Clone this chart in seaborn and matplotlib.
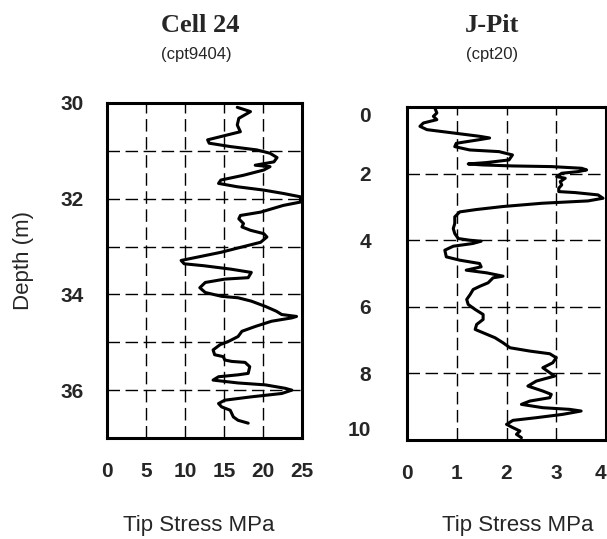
#!/usr/bin/env python3
"""CPT tip stress profiles for Cell 24 and J-Pit."""

import matplotlib

matplotlib.use("Agg")  # no display
import matplotlib.pyplot as plt
import pandas as pd
import seaborn as sns

# Cell 24 (cpt9404): depth (m) and tip stress (MPa)
cell24_depth = [
    30.09, 30.18, 30.32, 30.46, 30.60, 30.77, 30.84, 30.91, 30.98, 31.05,
    31.14, 31.23, 31.30, 31.33, 31.40, 31.51, 31.61, 31.68, 31.75, 31.82,
    31.89, 31.96, 32.07, 32.14, 32.28, 32.35, 32.42, 32.52, 32.59, 32.66,
    32.73, 32.80, 32.91, 32.98, 33.12, 33.22, 33.29, 33.36, 33.40, 33.47,
    33.54, 33.65, 33.68, 33.75, 33.86, 33.96, 34.04, 34.07, 34.14, 34.25,
    34.35, 34.42, 34.46, 34.49, 34.56, 34.67, 34.77, 34.88, 34.98, 35.05,
    35.16, 35.26, 35.30, 35.37, 35.40, 35.42, 35.51, 35.65, 35.68, 35.72,
    35.79, 35.85, 35.89, 35.96, 36.00, 36.07, 36.14, 36.21, 36.28, 36.35,
    36.42, 36.56, 36.63, 36.69,
]
cell24_stress = [
    16.7, 18.4, 16.9, 16.7, 17.1, 12.9, 13.1, 15.8, 19.2, 20.9,
    21.8, 21.4, 19.0, 20.9, 20.1, 17.5, 14.6, 14.3, 16.7, 20.1,
    22.6, 24.8, 24.8, 22.6, 19.7, 17.1, 16.9, 17.5, 17.3, 18.4,
    20.1, 20.5, 19.7, 18.0, 14.6, 11.6, 9.5, 9.9, 12.4, 15.8,
    18.5, 18.1, 15.1, 12.6, 11.9, 12.6, 14.7, 16.8, 18.5, 20.3,
    21.7, 22.4, 24.3, 23.7, 21.1, 19.0, 17.3, 16.8, 15.6, 14.5,
    13.6, 13.8, 14.9, 15.1, 16.0, 17.7, 18.3, 18.1, 16.8, 14.3,
    13.6, 16.8, 20.3, 22.8, 23.7, 22.4, 18.5, 15.1, 14.3, 14.7,
    15.8, 16.2, 16.8, 18.1,
]

# J-Pit (cpt20)
jpit_depth = [
    0.03, 0.18, 0.28, 0.38, 0.48, 0.58, 0.68, 0.78, 0.88, 0.93,
    0.98, 1.09, 1.19, 1.29, 1.34, 1.44, 1.59, 1.67, 1.71, 1.74,
    1.77, 1.79, 1.84, 1.89, 1.94, 1.99, 2.09, 2.14, 2.24, 2.34,
    2.44, 2.54, 2.57, 2.64, 2.74, 2.82, 2.89, 2.99, 3.08, 3.15,
    3.30, 3.50, 3.65, 3.80, 3.95, 4.00, 4.03, 4.10, 4.18, 4.30,
    4.50, 4.60, 4.70, 4.80, 4.90, 4.98, 5.08, 5.13, 5.28, 5.38,
    5.48, 5.63, 5.78, 5.93, 6.08, 6.23, 6.38, 6.53, 6.68, 6.78,
    6.93, 7.08, 7.23, 7.33, 7.41, 7.53, 7.68, 7.83, 7.98, 8.08,
    8.23, 8.38, 8.53, 8.63, 8.73, 8.83, 8.93, 9.03, 9.08, 9.13,
    9.23, 9.33, 9.41, 9.53, 9.63, 9.73, 9.83, 9.93,
]
jpit_stress = [
    0.56, 0.60, 0.53, 0.60, 0.33, 0.26, 0.40, 0.93, 1.46, 1.66,
    1.46, 0.99, 0.96, 1.26, 1.85, 2.12, 2.05, 1.59, 1.23, 1.52,
    2.12, 2.91, 3.51, 3.61, 3.44, 3.11, 3.01, 3.18, 3.08, 3.11,
    3.05, 3.05, 3.38, 3.84, 3.94, 3.64, 2.72, 1.92, 1.39, 1.06,
    0.96, 0.96, 0.93, 0.96, 1.03, 1.26, 1.49, 1.32, 0.93, 0.76,
    0.79, 1.06, 1.46, 1.49, 1.19, 1.60, 1.93, 1.73, 1.63, 1.47,
    1.33, 1.27, 1.20, 1.23, 1.37, 1.53, 1.53, 1.40, 1.37, 1.53,
    1.77, 1.93, 2.07, 2.47, 2.87, 3.00, 2.93, 2.73, 2.87, 2.97,
    2.60, 2.43, 2.73, 2.90, 2.87, 2.47, 2.30, 2.73, 3.27, 3.50,
    3.13, 2.60, 2.13, 2.00, 2.13, 2.27, 2.20, 2.30,
]

cell24_xticks = [0, 5, 10, 15, 20, 25]
cell24_yticks = [30, 32, 34, 36]
jpit_xticks = [0, 1, 2, 3, 4]
jpit_yticks = [0, 2, 4, 6, 8, 10]

sns.set_style("white")
plt.rcParams["font.family"] = ["Liberation Sans", "DejaVu Sans"]

fig = plt.figure(figsize=(6.07, 5.39), dpi=100)
ax_left = fig.add_axes([107 / 607, 1 - 438 / 539, 195 / 607, 335 / 539])
ax_right = fig.add_axes([407 / 607, 1 - 440 / 539, 199 / 607, 333 / 539])

grid_kw = dict(color="black", linestyle=(0, (9, 4)), linewidth=1.0)


def draw_profile(ax, depth, stress, xlim, ylim, xticks, yticks, xgrid, ygrid, ypad):
    df = pd.DataFrame({"depth": depth, "stress": stress})
    sns.lineplot(
        data=df, x="stress", y="depth", sort=False, estimator=None,
        color="black", linewidth=2.2, ax=ax,
    )
    ax.set_xlim(*xlim)
    ax.set_ylim(ylim[1], ylim[0])  # depth increases downward
    ax.set_xticks(xticks)
    ax.set_yticks(yticks)
    for v in xgrid:
        ax.axvline(v, **grid_kw)
    for v in ygrid:
        ax.axhline(v, **grid_kw)
    ax.set_xlabel("")
    ax.set_ylabel("")
    ax.tick_params(axis="x", length=0, pad=17, labelsize=15)
    ax.tick_params(axis="y", length=0, pad=ypad, labelsize=15)
    for lab in ax.get_xticklabels() + ax.get_yticklabels():
        lab.set_fontweight("bold")
    for sp in ax.spines.values():
        sp.set_linewidth(2.2)
        sp.set_color("black")
        sp.set_visible(True)


draw_profile(ax_left, cell24_depth, cell24_stress, (0, 25), (30, 37),
             cell24_xticks, cell24_yticks, [5, 10, 15, 20],
             [31, 32, 33, 34, 35, 36], 17)
draw_profile(ax_right, jpit_depth, jpit_stress, (0, 4), (0, 10),
             jpit_xticks, jpit_yticks, [1, 2, 3], [2, 4, 6, 8], 26)

# first and last depth labels of J-Pit sit inside the box
ylabs = ax_right.get_yticklabels()
ylabs[0].set_va("top")
ylabs[-1].set_va("bottom")
# the "4" sits right at the page edge
ax_right.get_xticklabels()[-1].set_ha("right")

serif = ["Liberation Serif", "DejaVu Serif"]
fig.text(200 / 607, 1 - 26 / 539, "Cell 24", family=serif, fontweight="bold",
         fontsize=19, ha="center", va="center")
fig.text(196 / 607, 1 - 54 / 539, "(cpt9404)", fontsize=12, ha="center", va="center")
fig.text(492 / 607, 1 - 26 / 539, "J-Pit", family=serif, fontweight="bold",
         fontsize=19, ha="center", va="center")
fig.text(492 / 607, 1 - 54 / 539, "(cpt20)", fontsize=12, ha="center", va="center")

fig.text(199 / 607, 1 - 526 / 539, "Tip Stress MPa", fontsize=16, ha="center", va="center")
fig.text(518 / 607, 1 - 526 / 539, "Tip Stress MPa", fontsize=16, ha="center", va="center")
fig.text(23 / 607, 1 - 261 / 539, "Depth (m)", fontsize=16, rotation=90,
         ha="center", va="center")

fig.savefig("out.png", dpi=100)
